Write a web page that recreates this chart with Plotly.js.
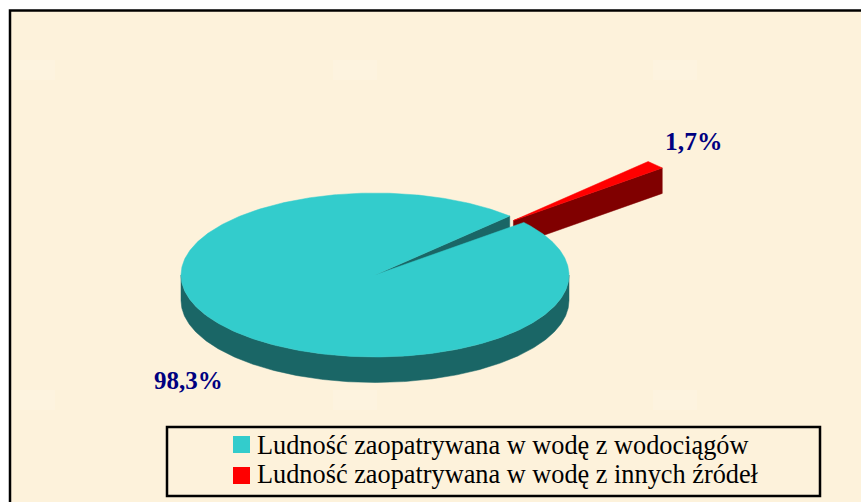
<!DOCTYPE html>
<html><head><meta charset="utf-8">
<script src="https://cdn.plot.ly/plotly-3.0.1.min.js"></script>
<style>html,body{margin:0;padding:0;background:#fff}#c{width:861px;height:502px}</style>
</head><body><div id="c"></div>
<script>
const categories = ['Ludność zaopatrywana w wodę z wodociągów','Ludność zaopatrywana w wodę z innych źródeł'];
const values = [98.3, 1.7];
const labels = ['98,3%','1,7%'];
const topColors = ['#33CCCC','#FF0000'];
const wallColors = ['#1A6666','#800000'];

const W=861,H=502;
const cx=375, cy=275, rx=194, ry=82, depth=25.5, explode=0.975;
const total = values.reduce((a,b)=>a+b,0);
const gapStart = 39.9;
const smallSpan = values[1]/total*360;
const bigSpan = values[0]/total*360;
const d2r = Math.PI/180;

function ptOn(t,ox,oy,dz){return [cx+ox+rx*Math.cos(t*d2r), cy+oy-ry*Math.sin(t*d2r)+dz];}
function arc(a,b,ox,oy,dz){const n=Math.max(2,Math.ceil(Math.abs(b-a)*2));const r=[];for(let i=0;i<=n;i++){r.push(ptOn(a+(b-a)*i/n,ox,oy,dz));}return r;}
function sector(a,b,ox,oy){return [[cx+ox,cy+oy]].concat(arc(a,b,ox,oy,0)).concat([[cx+ox,cy+oy]]);}
function poly(pts,color,name){return {type:'scatter',mode:'lines',x:pts.map(p=>p[0]),y:pts.map(p=>p[1]),fill:'toself',fillcolor:color,line:{color:color,width:0.5},hoverinfo:'skip',showlegend:false,name:name};}

const traces=[];
const sA=gapStart, sB=gapStart+smallSpan, sM=(sA+sB)/2;
const ox=explode*rx*Math.cos(sM*d2r), oy=-explode*ry*Math.sin(sM*d2r);
const apex=[cx+ox,cy+oy];
const o1=ptOn(sA,ox,oy,0);
traces.push(poly([apex,o1,[o1[0],o1[1]+depth],[apex[0],apex[1]+depth],apex],wallColors[1],categories[1]));
traces.push(poly(sector(sA,sB,ox,oy),topColors[1],categories[1]));
const bA=sB, bB=sB+bigSpan;
const e=ptOn(bA,0,0,0);
traces.push(poly([[cx,cy],e,[e[0],e[1]+depth],[cx,cy+depth],[cx,cy]],wallColors[0],categories[0]));
const wTop=arc(180,360,0,0,0), wBot=arc(360,180,0,0,depth);
traces.push(poly(wTop.concat(wBot).concat([wTop[0]]),wallColors[0],categories[0]));
traces.push(poly(sector(bA,bB,0,0),topColors[0],categories[0]));

const blotch=(x,y)=>({type:'rect',xref:'x',yref:'y',x0:x-22,y0:y-10,x1:x+22,y1:y+10,fillcolor:'rgba(255,255,255,0.12)',line:{width:0},layer:'below'});

const layout={width:W,height:H,margin:{l:0,r:0,t:0,b:0},paper_bgcolor:'#FFFFFF',plot_bgcolor:'rgba(0,0,0,0)',showlegend:false,
 xaxis:{range:[0,W],visible:false,fixedrange:true},
 yaxis:{range:[H,0],visible:false,fixedrange:true},
 shapes:[
  {type:'rect',xref:'x',yref:'y',x0:10,y0:10.5,x1:880,y1:530,fillcolor:'#FDF2DB',line:{color:'#000',width:2.5},layer:'below'},
  blotch(33,70),blotch(355,70),blotch(675,70),blotch(33,400),blotch(355,400),blotch(675,400),
  {type:'rect',xref:'x',yref:'y',x0:167,y0:427,x1:820,y1:496,fillcolor:'rgba(0,0,0,0)',line:{color:'#000',width:2.5},layer:'above'},
  {type:'rect',xref:'x',yref:'y',x0:233,y0:436,x1:250,y1:453,fillcolor:topColors[0],line:{width:0},layer:'above'},
  {type:'rect',xref:'x',yref:'y',x0:233,y0:467,x1:250,y1:484,fillcolor:topColors[1],line:{width:0},layer:'above'}
 ],
 annotations:[
  {xref:'x',yref:'y',x:188,y:380,text:'<b>'+labels[0]+'</b>',showarrow:false,font:{family:'Liberation Serif',size:25,color:'#000080'}},
  {xref:'x',yref:'y',x:693.5,y:141,text:'<b>'+labels[1]+'</b>',showarrow:false,font:{family:'Liberation Serif',size:25.5,color:'#000080'}},
  {xref:'x',yref:'y',x:255,y:445,xanchor:'left',text:categories[0],showarrow:false,font:{family:'Liberation Serif',size:26.3,color:'#000'}},
  {xref:'x',yref:'y',x:255,y:474,xanchor:'left',text:categories[1],showarrow:false,font:{family:'Liberation Serif',size:26.3,color:'#000'}}
 ]};
Plotly.newPlot('c',traces,layout,{displayModeBar:false,staticPlot:true});
</script></body></html>
